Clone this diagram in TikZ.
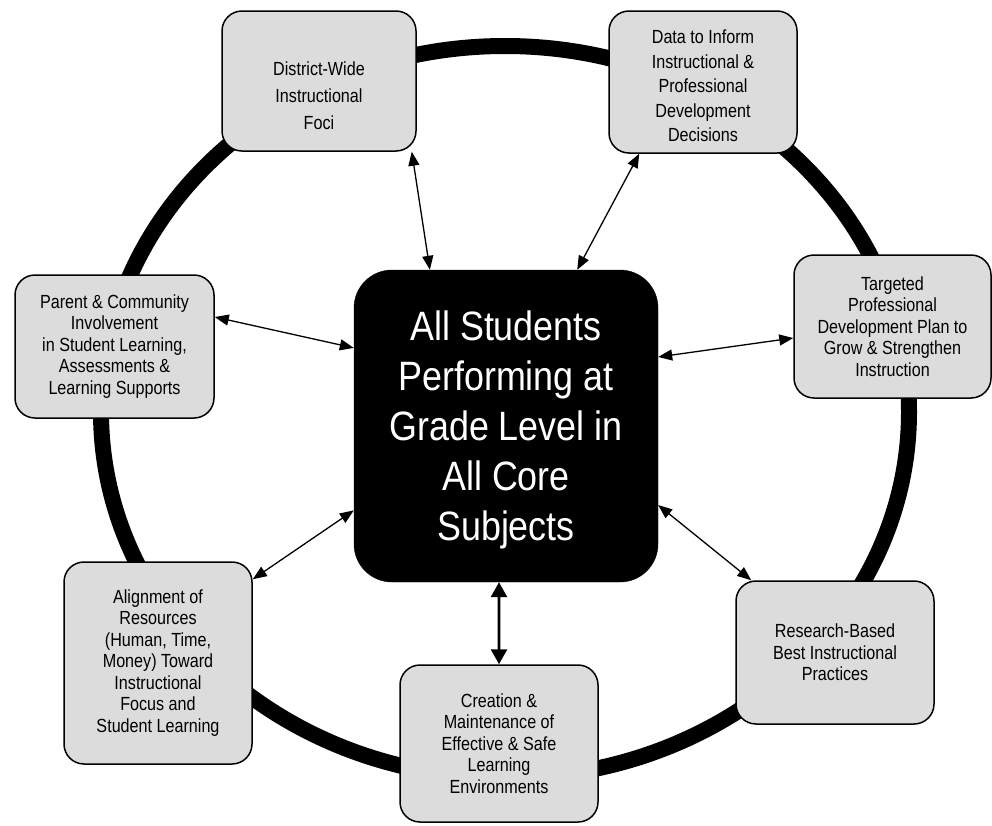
\documentclass[tikz,border=0pt]{standalone}
\usepackage{fontspec}
\setmainfont{Liberation Sans}[FakeStretch=0.85]
\newfontfamily\hubfont{Liberation Sans}[FakeStretch=0.875]
\usetikzlibrary{arrows.meta,calc}
\definecolor{boxgray}{RGB}{220,220,220}
\begin{document}
\begin{tikzpicture}[x=1pt,y=-1pt,
  box/.style={draw=black, line width=1.5pt, fill=boxgray, rounded corners=20pt,
    align=center, inner sep=0pt, font=\fontsize{19pt}{21.5pt}\selectfont},
  lbl/.style={align=center, inner sep=0pt},
  hub/.style={draw=black, fill=black, rounded corners=38pt,
    inner sep=0pt, minimum width=304pt, minimum height=312pt},
  hubtext/.style={text=white, align=center, inner sep=0pt,
    font=\hubfont\fontsize{41pt}{50pt}\selectfont},
  conn/.style={line width=1.3pt,
    {Triangle[length=14pt,width=11pt]}-{Triangle[length=14pt,width=11pt]}},
  bigconn/.style={line width=2.6pt,
    {Triangle[length=15pt,width=16pt]}-{Triangle[length=15pt,width=16pt]}},
  ring/.style={line width=16pt}
]
\useasboundingbox (0,0) rectangle (992,825);
\draw[ring] (505,412) ellipse [x radius=404, y radius=366];

\node[box, minimum width=194pt, minimum height=140pt] (b1) at (319,81) {};
\node[lbl, font=\fontsize{19pt}{27pt}\selectfont] (b1t) at (319,96)
  {District-Wide\\Instructional\\Foci};
\node[box, minimum width=188pt, minimum height=142pt] (b2) at (703,82) {};
\node[lbl, font=\fontsize{19pt}{24.5pt}\selectfont] (b2t) at (703,86)
  {Data to Inform\\Instructional \&\\Professional\\Development\\Decisions};
\node[box, minimum width=197pt, minimum height=143pt] (b3) at (892.5,326.5)
  {Targeted\\Professional\\Development Plan to\\Grow \& Strengthen\\Instruction};
\node[box, minimum width=198pt, minimum height=143pt] (b4) at (835,652.5)
  {Research-Based\\Best Instructional\\Practices};
\node[box, minimum width=198pt, minimum height=157pt] (b5) at (499,743.5)
  {Creation \&\\Maintenance of\\Effective \& Safe\\Learning\\Environments};
\node[box, minimum width=188pt, minimum height=202pt] (b6) at (158,663)
  {Alignment of\\Resources\\(Human, Time,\\Money) Toward\\Instructional\\Focus and\\Student Learning};
\node[box, minimum width=199pt, minimum height=143pt] (b7) at (114.5,346.5)
  {Parent \& Community\\Involvement\\in Student Learning,\\Assessments \&\\Learning Supports};

\node[hub] (c) at (506,426) {};
\node[hubtext] (ct) at (506,430)
  {All Students\\Performing at\\Grade Level in\\All Core\\Subjects};

\draw[conn] ([xshift=-5pt]b1.south east) -- ($(c.north west)!0.25!(c.north east)$);
\draw[conn] ([xshift=31pt]b2.south west) -- ($(c.north west)!0.734!(c.north east)$);
\draw[conn] ([yshift=-11.5pt]b3.west) -- ($(c.north east)!0.279!(c.south east)$);
\draw[conn] ([yshift=29.5pt]b7.east) -- ($(c.north west)!0.25!(c.south west)$);
\draw[conn] ([yshift=-18pt]b6.north east) -- ($(c.north west)!0.77!(c.south west)$);
\draw[conn] ([xshift=16pt]b4.north west) -- ($(c.north east)!0.753!(c.south east)$);
\draw[bigconn] (b5.north) -- ($(c.south west)!0.477!(c.south east)$);
\end{tikzpicture}
\end{document}
